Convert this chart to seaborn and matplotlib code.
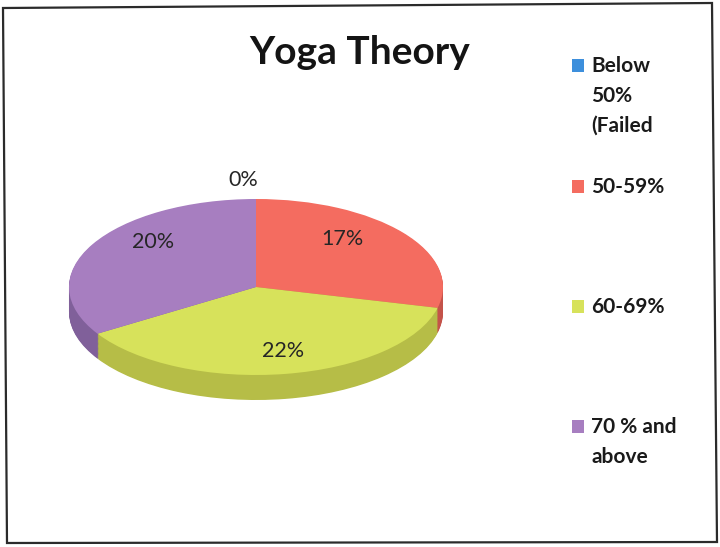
import numpy as np
import matplotlib
matplotlib.use("Agg")
import matplotlib.pyplot as plt
import seaborn as sns
from matplotlib.patches import Rectangle, Polygon

# Score bands and their shares
categories = ["Below\n50%\n(Failed", "50-59%", "60-69%", "70 % and\nabove"]
values = [0, 17, 22, 20]
value_labels = [f"{v}%" for v in values]
title = "Yoga Theory"

sns.set_theme(style="white")
plt.rcParams["font.family"] = ["Lato", "DejaVu Sans"]

top_colors = ["#3d8fdc", "#f46c60", "#d7e25b", "#a77ec0"]
side_colors = ["#2f6fae", "#c4534a", "#b6bd47", "#80609a"]

W, H = 720, 547
fig = plt.figure(figsize=(W / 100, H / 100), dpi=100)
fig.patch.set_facecolor("white")

bg = fig.add_axes([0, 0, 1, 1])
bg.set_xlim(0, W)
bg.set_ylim(H, 0)
bg.axis("off")

# chart border
bg.add_patch(Polygon([(3, 8), (712, 3), (717, 542), (7, 543)], closed=True,
                     fill=False, edgecolor="#2b2b2b", linewidth=1.6))

bg.text(360, 64, title, ha="center", va="baseline", fontsize=28,
        fontweight="bold", color="#141414")

# pie drawn as a tilted disc: ellipse with a visible rim
cx, cy, rx, ry, depth = 256, 287, 187, 88, 25
ax = fig.add_axes([(cx - rx) / W, 1 - (cy + ry + depth) / H,
                   2 * rx / W, (2 * ry + depth) / H])
d = depth / ry

n_layers = 30
for t in np.linspace(1, 0, n_layers, endpoint=False):
    ax.pie(values, colors=side_colors, startangle=90, counterclock=False,
           center=(0, -d * t), radius=1,
           wedgeprops=dict(linewidth=0, antialiased=True))

wedges, _ = ax.pie(values, colors=top_colors, startangle=90, counterclock=False,
                   center=(0, 0), radius=1,
                   wedgeprops=dict(linewidth=0, antialiased=True))
wedges[0].set_edgecolor("#7f8fb8")
wedges[0].set_linewidth(1.0)

ax.set_xlim(-1, 1)
ax.set_ylim(-1 - d, 1)
ax.set_aspect("auto")
ax.axis("off")

label_r = [1.22, 0.65, 0.65, 0.65]
label_off = [(-13, 0), (-9, 13), (8, -8), (3, 17)]
for w, lab, r, off in zip(wedges, value_labels, label_r, label_off):
    th = np.deg2rad((w.theta1 + w.theta2) / 2)
    ax.annotate(lab, xy=(r * np.cos(th), r * np.sin(th)), xytext=off,
                textcoords="offset pixels", ha="center", va="center",
                fontsize=15.5, color="#262626", annotation_clip=False)

# legend
legend_y = [72, 193, 313, 433]
line_pitch = 30
for cat, col, yb in zip(categories, top_colors, legend_y):
    bg.add_patch(Rectangle((572, yb - 13), 12, 13, facecolor=col,
                           edgecolor="none"))
    for i, line in enumerate(cat.split("\n")):
        bg.text(591, yb + i * line_pitch, line, ha="left", va="baseline",
                fontsize=15, fontweight="bold", color="#1a1a1a")

fig.savefig("out.png", dpi=100, facecolor="white")
